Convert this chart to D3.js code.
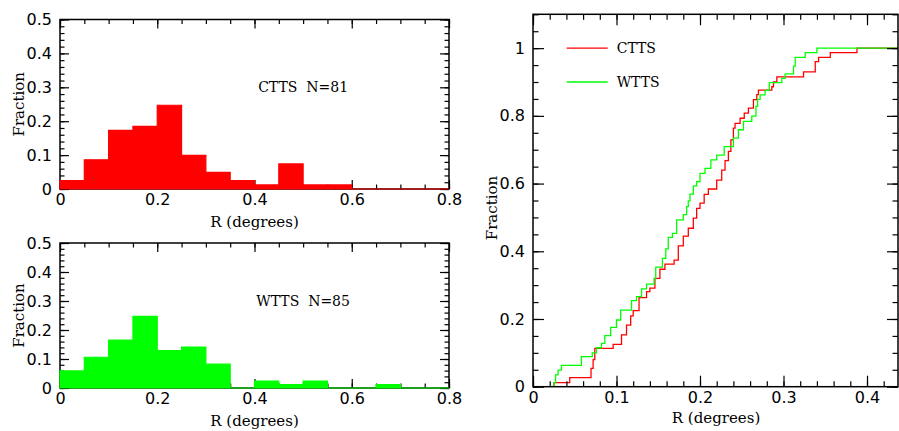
<!DOCTYPE html>
<html>
<head>
<meta charset="utf-8">
<script src="https://cdn.jsdelivr.net/npm/d3@7"></script>
<style>
  body { margin: 0; background: #fff; }
  .tick text { font-family: "DejaVu Sans", sans-serif; }
</style>
</head>
<body>
<div id="chart"></div>
<script>
// histogram bins (left edge, width 0.05)
const binStart = [0, 0.05, 0.1, 0.15, 0.2, 0.25, 0.3, 0.35, 0.4, 0.45, 0.5, 0.55, 0.6, 0.65, 0.7, 0.75];
const cttsHist = [0.025, 0.086, 0.173, 0.185, 0.247, 0.099, 0.049, 0.025, 0.012, 0.074, 0.012, 0.012, 0, 0, 0, 0];
const wttsHist = [0.059, 0.106, 0.165, 0.247, 0.129, 0.141, 0.082, 0, 0.024, 0.012, 0.024, 0, 0, 0.012, 0, 0];

// cumulative distributions (step positions)
const cttsCdfR = [0, 0.025, 0.044, 0.0695, 0.072, 0.074, 0.096, 0.106, 0.112, 0.117, 0.120, 0.127, 0.136, 0.140, 0.146,
  0.152, 0.158, 0.169, 0.174, 0.180, 0.186, 0.192, 0.196, 0.200, 0.205, 0.210, 0.220, 0.226, 0.230, 0.234,
  0.237, 0.240, 0.242, 0.248, 0.253, 0.258, 0.264, 0.268, 0.270, 0.286, 0.288, 0.292, 0.324, 0.338, 0.342,
  0.356, 0.388, 0.44];
const cttsCdfF = [0, 0.012, 0.027, 0.054, 0.08, 0.113, 0.125, 0.153, 0.182, 0.209, 0.225, 0.263, 0.281, 0.291, 0.320,
  0.347, 0.362, 0.374, 0.416, 0.445, 0.468, 0.498, 0.527, 0.542, 0.568, 0.584, 0.610, 0.640, 0.668, 0.695,
  0.729, 0.764, 0.778, 0.793, 0.808, 0.823, 0.848, 0.863, 0.876, 0.886, 0.900, 0.915, 0.930, 0.960, 0.973,
  0.987, 1.0, 1.0];
const wttsCdfR = [0, 0.025, 0.027, 0.030, 0.034, 0.058, 0.071, 0.076, 0.082, 0.086, 0.093, 0.100, 0.105, 0.118, 0.124,
  0.130, 0.136, 0.145, 0.147, 0.155, 0.159, 0.162, 0.167, 0.172, 0.180, 0.184, 0.186, 0.188, 0.192, 0.196,
  0.200, 0.206, 0.213, 0.220, 0.229, 0.240, 0.246, 0.252, 0.262, 0.267, 0.269, 0.272, 0.278, 0.283, 0.298,
  0.302, 0.312, 0.314, 0.326, 0.340, 0.44];
const wttsCdfF = [0, 0.012, 0.035, 0.049, 0.063, 0.089, 0.100, 0.115, 0.128, 0.151, 0.175, 0.197, 0.226, 0.254, 0.266,
  0.289, 0.303, 0.320, 0.353, 0.379, 0.407, 0.441, 0.453, 0.493, 0.508, 0.532, 0.549, 0.569, 0.593, 0.606,
  0.630, 0.645, 0.670, 0.684, 0.709, 0.734, 0.759, 0.784, 0.799, 0.828, 0.849, 0.862, 0.875, 0.898, 0.911,
  0.924, 0.947, 0.973, 0.987, 1.0, 1.0];

const histXTicks = [0, 0.2, 0.4, 0.6, 0.8];
const histYTicks = [0, 0.1, 0.2, 0.3, 0.4, 0.5];
const cdfXTicks = [0, 0.1, 0.2, 0.3, 0.4];
const cdfYTicks = [0, 0.2, 0.4, 0.6, 0.8, 1];

const red = "#ff0000", green = "#00ff00";
const W = 899, H = 431;

const svg = d3.select("#chart").append("svg")
    .attr("width", W)
    .attr("height", H);

function fmt(d) { return d === 0 ? "0" : d3.format("")(+d.toFixed(2)); }

// draw frame with ticks on four sides, labels on bottom/left
function frame(x, y, xMajor, xMinor, yMajor, yMinor, bigLen, smallLen) {
    const [x0, x1] = x.range(), [y0, y1] = y.range();
    const g = svg.append("g");
    const minorX = d3.range(0, xMinor.n + 1).map(i => i * xMinor.step).filter(v => v <= x.domain()[1] + 1e-9);
    const minorY = d3.range(0, yMinor.n + 1).map(i => i * yMinor.step).filter(v => v <= y.domain()[1] + 1e-9);

    g.append("g").attr("transform", `translate(0,${y0})`)
        .call(d3.axisBottom(x).tickValues(minorX).tickSize(-smallLen).tickFormat(""));
    g.append("g").attr("transform", `translate(0,${y1})`)
        .call(d3.axisTop(x).tickValues(minorX).tickSize(-smallLen).tickFormat(""));
    g.append("g").attr("transform", `translate(0,${y1})`)
        .call(d3.axisTop(x).tickValues(xMajor).tickSize(-bigLen).tickFormat(""));
    g.append("g").attr("transform", `translate(0,${y0})`)
        .call(d3.axisBottom(x).tickValues(xMajor).tickSize(-bigLen).tickPadding(5).tickFormat(fmt));

    g.append("g").attr("transform", `translate(${x0},0)`)
        .call(d3.axisLeft(y).tickValues(minorY).tickSize(-smallLen).tickFormat(""));
    g.append("g").attr("transform", `translate(${x1},0)`)
        .call(d3.axisRight(y).tickValues(minorY).tickSize(-smallLen).tickFormat(""));
    g.append("g").attr("transform", `translate(${x1},0)`)
        .call(d3.axisRight(y).tickValues(yMajor).tickSize(-bigLen).tickFormat(""));
    g.append("g").attr("transform", `translate(${x0},0)`)
        .call(d3.axisLeft(y).tickValues(yMajor).tickSize(-bigLen).tickPadding(8).tickFormat(fmt));

    g.selectAll(".domain").remove();
    g.selectAll(".tick line").attr("stroke", "#000").attr("stroke-width", 1.2);
    g.selectAll(".tick text").attr("font-size", 16).attr("fill", "#000");

    g.append("rect")
        .attr("x", x0).attr("y", y1)
        .attr("width", x1 - x0).attr("height", y0 - y1)
        .attr("fill", "none")
        .attr("stroke", "#000")
        .attr("stroke-width", 1.5);
    return g;
}

function label(txt, x, y, rotate, size) {
    svg.append("text")
        .attr("transform", `translate(${x},${y})` + (rotate ? " rotate(-90)" : ""))
        .attr("text-anchor", "middle")
        .attr("font-family", "DejaVu Serif, serif")
        .attr("font-size", size || 15)
        .attr("fill", "#000")
        .text(txt);
}

// ---------- histograms ----------
function histPanel(values, color, top, bottom, name) {
    const x = d3.scaleLinear().domain([0, 0.8]).range([60, 449]);
    const y = d3.scaleLinear().domain([0, 0.5]).range([bottom, top]);

    frame(x, y, histXTicks, {step: 0.05, n: 16}, histYTicks, {step: 0.02, n: 25}, 9, 4.5);

    const pts = binStart.map((b, i) => [b, values[i]]);
    pts.push([0.8, values[values.length - 1]]);

    const area = d3.area()
        .curve(d3.curveStepAfter)
        .x(d => x(d[0]))
        .y0(y(0))
        .y1(d => y(d[1]));

    svg.append("path")
        .datum(pts)
        .attr("d", area)
        .attr("fill", color)
        .attr("stroke", color)
        .attr("stroke-width", 1.2);

    svg.append("text")
        .attr("x", x(0.5))
        .attr("y", y(0.3) + 5)
        .attr("text-anchor", "middle")
        .attr("font-family", "DejaVu Serif, serif")
        .attr("font-size", 14)
        .attr("xml:space", "preserve")
        .text(name);

    label("R (degrees)", (60 + 449) / 2, bottom + 38);
    label("Fraction", 24, (top + bottom) / 2, true);
}

histPanel(cttsHist, red, 19.5, 189, "CTTS  N=81");
histPanel(wttsHist, green, 243, 388, "WTTS  N=85");

// ---------- cumulative distributions ----------
const xc = d3.scaleLinear().domain([0, 365 / 835]).range([533, 898]);
const yc = d3.scaleLinear().domain([0, 1.1]).range([386.7, 14.3]);

svg.append("clipPath").attr("id", "clipc")
    .append("rect")
    .attr("x", 533).attr("y", 14.3)
    .attr("width", 365).attr("height", 372.4);

const step = d3.line()
    .curve(d3.curveStepAfter)
    .x(d => xc(d[0]))
    .y(d => yc(d[1]));

[[cttsCdfR, cttsCdfF, red], [wttsCdfR, wttsCdfF, green]].forEach(([r, f, c]) => {
    svg.append("path")
        .datum(r.map((v, i) => [v, f[i]]))
        .attr("clip-path", "url(#clipc)")
        .attr("d", step)
        .attr("fill", "none")
        .attr("stroke", c)
        .attr("stroke-width", 1.3);
});

frame(xc, yc, cdfXTicks, {step: 0.02, n: 22}, cdfYTicks, {step: 0.05, n: 22}, 11, 5.5);

// legend
const legend = [["CTTS", red, 1.0], ["WTTS", green, 0.9]];
legend.forEach(([name, c, fy]) => {
    svg.append("line")
        .attr("x1", 566.7).attr("x2", 607.7)
        .attr("y1", yc(fy)).attr("y2", yc(fy))
        .attr("stroke", c)
        .attr("stroke-width", 1.3);
    svg.append("text")
        .attr("x", 616.7)
        .attr("y", yc(fy) + 5)
        .attr("font-family", "DejaVu Serif, serif")
        .attr("font-size", 14)
        .text(name);
});

label("R (degrees)", 716, 423);
label("Fraction", 497, 208, true);
</script>
</body>
</html>
